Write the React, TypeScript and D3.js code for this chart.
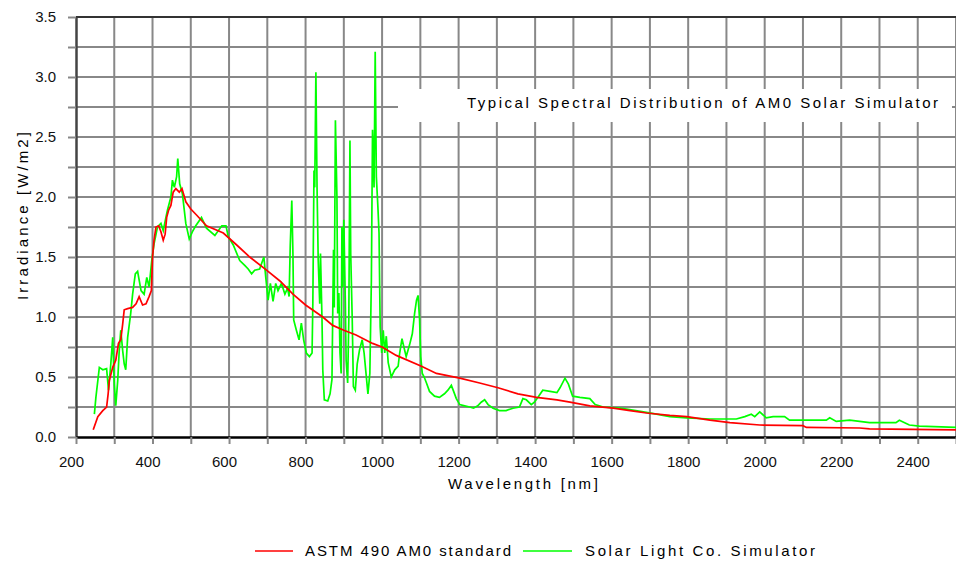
import * as d3 from "d3";
import React, { useRef, useEffect } from "react";

const WIDTH = 956;
const HEIGHT = 575;

// ASTM E490 AM0 reference spectrum (nm, W/m2/nm)
const astmNm = [245, 257, 270, 280, 284, 287, 296, 304, 311, 317, 322, 326, 335, 348, 357, 365, 374, 383, 391, 397, 400, 404, 409, 416, 422, 428, 433, 437, 442, 448, 454, 461, 470, 477, 487, 500, 515, 541, 585, 620, 654, 698, 733, 767, 800, 845, 871, 900, 932, 975, 1000, 1037, 1103, 1142, 1203, 1255, 1303, 1355, 1404, 1457, 1491, 1543, 1604, 1648, 1691, 1752, 1796, 1857, 1909, 1987, 2100, 2109, 2248, 2274, 2500];
const astmVal = [0.06, 0.17, 0.22, 0.25, 0.36, 0.47, 0.58, 0.64, 0.78, 0.81, 0.94, 1.06, 1.07, 1.08, 1.11, 1.17, 1.1, 1.11, 1.17, 1.22, 1.5, 1.64, 1.75, 1.76, 1.71, 1.64, 1.69, 1.83, 1.89, 1.93, 2.04, 2.07, 2.04, 2.07, 1.96, 1.9, 1.85, 1.76, 1.7, 1.6, 1.5, 1.39, 1.3, 1.19, 1.1, 1.0, 0.93, 0.89, 0.85, 0.78, 0.75, 0.68, 0.59, 0.53, 0.49, 0.45, 0.41, 0.36, 0.33, 0.31, 0.29, 0.26, 0.24, 0.22, 0.2, 0.18, 0.17, 0.14, 0.12, 0.1, 0.094, 0.08, 0.075, 0.067, 0.06];

// Solar Light Co. simulator measurement
const simNm = [248, 252, 261, 270, 280, 285, 291, 296, 300, 304, 309, 313, 317, 322, 326, 330, 335, 343, 348, 355, 361, 370, 378, 385, 391, 398, 404, 413, 422, 428, 435, 439, 448, 452, 457, 463, 466, 471, 478, 487, 496, 504, 513, 528, 541, 563, 581, 592, 598, 611, 628, 641, 650, 659, 667, 680, 691, 696, 702, 708, 715, 722, 728, 737, 746, 753, 757, 760, 764, 767, 769, 776, 783, 789, 795, 802, 810, 817, 819, 822, 824, 827, 830, 833, 837, 839, 843, 845, 849, 858, 864, 869, 873, 875, 878, 882, 884, 887, 890, 893, 895, 897, 900, 904, 906, 910, 913, 916, 918, 922, 925, 930, 935, 941, 948, 953, 958, 963, 968, 972, 975, 979, 982, 985, 989, 992, 995, 999, 1003, 1007, 1011, 1016, 1024, 1033, 1042, 1046, 1052, 1057, 1063, 1072, 1079, 1085, 1090, 1094, 1098, 1101, 1105, 1110, 1116, 1124, 1137, 1150, 1163, 1172, 1181, 1187, 1194, 1203, 1216, 1229, 1239, 1250, 1259, 1268, 1277, 1290, 1307, 1324, 1342, 1359, 1368, 1377, 1390, 1398, 1407, 1420, 1439, 1457, 1465, 1478, 1487, 1498, 1517, 1543, 1557, 1578, 1622, 1643, 1683, 1717, 1752, 1796, 1857, 1926, 1948, 1965, 1974, 1987, 2004, 2022, 2052, 2065, 2109, 2161, 2170, 2187, 2222, 2274, 2343, 2352, 2378, 2404, 2500];
const simVal = [0.19, 0.33, 0.58, 0.56, 0.57, 0.39, 0.61, 0.83, 0.44, 0.26, 0.47, 0.72, 0.89, 0.72, 0.61, 0.56, 0.83, 1.03, 1.19, 1.36, 1.38, 1.22, 1.19, 1.33, 1.25, 1.47, 1.61, 1.75, 1.78, 1.72, 1.83, 1.89, 2.0, 2.14, 2.08, 2.17, 2.32, 2.11, 2.03, 1.78, 1.65, 1.71, 1.76, 1.83, 1.74, 1.68, 1.76, 1.76, 1.67, 1.6, 1.47, 1.43, 1.4, 1.36, 1.39, 1.4, 1.5, 1.33, 1.14, 1.28, 1.13, 1.28, 1.22, 1.28, 1.19, 1.24, 1.17, 1.6, 1.97, 1.53, 0.975, 0.89, 0.81, 0.95, 0.81, 0.7, 0.67, 0.7, 1.11, 2.22, 2.08, 3.04, 2.08, 1.48, 1.11, 1.53, 0.975, 0.56, 0.31, 0.3, 0.36, 0.48, 1.56, 1.08, 2.64, 2.0, 1.03, 1.2, 0.7, 0.53, 1.75, 1.25, 1.81, 1.11, 0.64, 0.45, 0.975, 2.47, 1.53, 0.975, 0.42, 0.39, 0.61, 0.725, 0.81, 0.7, 0.53, 0.36, 0.53, 1.31, 2.56, 2.08, 3.21, 2.17, 1.92, 1.7, 0.92, 0.7, 0.89, 0.7, 0.84, 0.62, 0.5, 0.56, 0.59, 0.7, 0.82, 0.75, 0.67, 0.77, 0.86, 1.03, 1.14, 1.18, 0.98, 0.67, 0.53, 0.5, 0.45, 0.38, 0.34, 0.33, 0.36, 0.39, 0.43, 0.38, 0.32, 0.27, 0.26, 0.25, 0.24, 0.26, 0.29, 0.31, 0.27, 0.24, 0.22, 0.22, 0.24, 0.25, 0.32, 0.31, 0.27, 0.29, 0.33, 0.39, 0.38, 0.37, 0.41, 0.49, 0.44, 0.34, 0.33, 0.32, 0.27, 0.25, 0.24, 0.23, 0.21, 0.19, 0.17, 0.16, 0.15, 0.15, 0.17, 0.19, 0.17, 0.21, 0.16, 0.17, 0.17, 0.14, 0.14, 0.14, 0.16, 0.13, 0.14, 0.12, 0.12, 0.14, 0.1, 0.09, 0.08];

const xTicks = d3.range(200, 2501, 100);
const yTicks = d3.range(0, 3.501, 0.25);

const TITLE = "Typical Spectral Distribution of AM0 Solar Simulator";
const X_LABEL = "Wavelength [nm]";
const Y_LABEL = "Irradiance [W/m2]";
const seriesNames = ["ASTM 490 AM0 standard", "Solar Light Co. Simulator"];
const seriesColors = ["#ff0000", "#00ff00"];

const FONT = "'Liberation Sans', Arial, sans-serif";
const GRID = "#888888";

const App = () => {
	const svgRef = useRef(null);

	useEffect(() => {
		const svg = d3.select(svgRef.current);
		svg.selectAll("*").remove();

		const x = d3.scaleLinear().domain([200, 2500]).range([76, 956]);
		const y = d3.scaleLinear().domain([0, 3.5]).range([437, 17]);

		svg.append("rect").attr("width", WIDTH).attr("height", HEIGHT).attr("fill", "#fff");

		// grid
		const grid = svg.append("g").attr("stroke", GRID).attr("stroke-width", 2);
		grid
			.selectAll("line.v")
			.data(xTicks.slice(1))
			.join("line")
			.attr("x1", (d) => x(d))
			.attr("x2", (d) => x(d))
			.attr("y1", y(3.5))
			.attr("y2", y(0));
		grid
			.selectAll("line.h")
			.data(yTicks.slice(1, -1))
			.join("line")
			.attr("x1", x(200))
			.attr("x2", x(2500))
			.attr("y1", (d) => y(d))
			.attr("y2", (d) => y(d));
		grid.append("line").attr("x1", x(200)).attr("x2", x(2500)).attr("y1", y(3.5)).attr("y2", y(3.5)).attr("stroke", "#333");

		// axes
		const yAxis = svg
			.append("g")
			.attr("transform", `translate(${x(200)},0)`)
			.call(
				d3
					.axisLeft(y)
					.tickValues(yTicks)
					.tickSize(8)
					.tickSizeOuter(0)
					.tickPadding(12)
					.tickFormat((d) => (Math.abs((d * 2) % 1) < 1e-6 ? d.toFixed(1) : ""))
			);
		const xAxis = svg
			.append("g")
			.attr("transform", `translate(0,${y(0)})`)
			.call(
				d3
					.axisBottom(x)
					.tickValues(xTicks)
					.tickSize(7)
					.tickSizeOuter(0)
					.tickPadding(12)
					.tickFormat((d) => (d % 200 === 0 ? String(d) : ""))
			);
		[yAxis, xAxis].forEach((g) => {
			g.selectAll(".tick line").attr("stroke", GRID).attr("stroke-width", 2);
			g.selectAll("text").attr("font-family", FONT).attr("font-size", 15).attr("fill", "#111");
		});
		xAxis.selectAll("text").attr("dx", -5);
		yAxis.select(".domain").attr("stroke", "#444").attr("stroke-width", 2.5);
		xAxis.select(".domain").attr("stroke", "#000").attr("stroke-width", 2.5);

		// series
		const line = d3
			.line()
			.x((d) => x(d[0]))
			.y((d) => y(d[1]));
		const sim = d3.zip(simNm, simVal);
		const astm = d3.zip(astmNm, astmVal);
		svg.append("path").datum(sim).attr("fill", "none").attr("stroke", seriesColors[1]).attr("stroke-width", 1.7).attr("d", line);
		svg.append("path").datum(astm).attr("fill", "none").attr("stroke", seriesColors[0]).attr("stroke-width", 1.7).attr("d", line);

		// title box
		svg.append("rect").attr("x", 398).attr("y", 89).attr("width", 554).attr("height", 33).attr("fill", "#fff");
		svg
			.append("text")
			.attr("x", 467)
			.attr("y", 108)
			.attr("font-family", FONT)
			.attr("font-size", 15)
			.attr("textLength", 471)
			.attr("lengthAdjust", "spacing")
			.text(TITLE);

		// axis labels
		svg
			.append("text")
			.attr("x", 448)
			.attr("y", 489)
			.attr("font-family", FONT)
			.attr("font-size", 15)
			.attr("textLength", 150)
			.attr("lengthAdjust", "spacing")
			.text(X_LABEL);
		svg
			.append("text")
			.attr("transform", "translate(28,300) rotate(-90)")
			.attr("font-family", FONT)
			.attr("font-size", 15)
			.attr("textLength", 168)
			.attr("lengthAdjust", "spacing")
			.text(Y_LABEL);

		// legend
		const legend = [
			{ x1: 255, x2: 293, tx: 305, tw: 206 },
			{ x1: 523, x2: 572, tx: 585, tw: 230 },
		];
		legend.forEach((l, i) => {
			svg.append("line").attr("x1", l.x1).attr("x2", l.x2).attr("y1", 551).attr("y2", 551).attr("stroke", seriesColors[i]).attr("stroke-width", 1.7);
			svg
				.append("text")
				.attr("x", l.tx)
				.attr("y", 556)
				.attr("font-family", FONT)
				.attr("font-size", 15)
				.attr("textLength", l.tw)
				.attr("lengthAdjust", "spacing")
				.text(seriesNames[i]);
		});
	}, []);

	return <svg ref={svgRef} width={WIDTH} height={HEIGHT} viewBox={`0 0 ${WIDTH} ${HEIGHT}`} style={{ position: "absolute", left: 0, top: 0 }} />;
};

export default App;
